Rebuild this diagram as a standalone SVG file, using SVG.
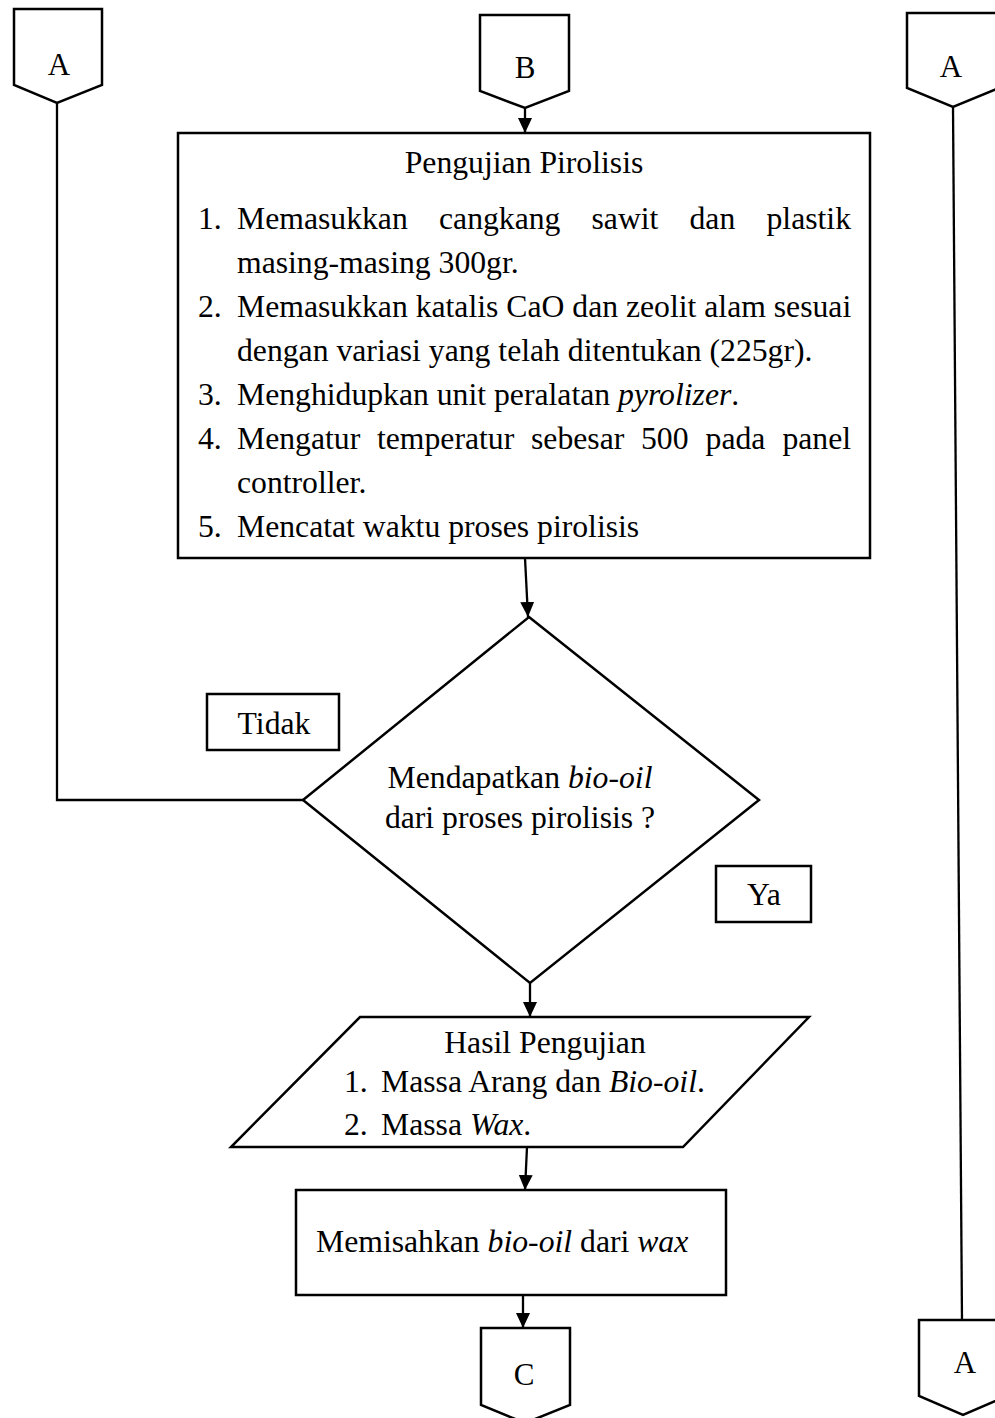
<svg xmlns="http://www.w3.org/2000/svg" width="995" height="1418" viewBox="0 0 995 1418">
<style>
.s{fill:#fff;stroke:#000;stroke-width:2.5;stroke-linejoin:miter}
.l{fill:none;stroke:#000;stroke-width:2.3}
text{font-family:"Liberation Serif","Times New Roman",serif;font-size:31.7px;fill:#000}
.c{font-size:31px}
.i{font-style:italic}
</style>
<defs>
<marker id="ah" markerUnits="userSpaceOnUse" markerWidth="16" markerHeight="16" refX="15" refY="7" orient="auto">
<path d="M0,0 L15,7 L0,14 Z" fill="#000"/>
</marker>
</defs>
<rect width="995" height="1418" fill="#fff"/>
<g id="connectors">
<polyline class="l" points="303,800 57,800 57,103"/>
<line class="l" x1="953" y1="107" x2="962" y2="1320"/>
<line class="l" x1="525" y1="108" x2="525" y2="133" marker-end="url(#ah)"/>
<line class="l" x1="525" y1="558" x2="528" y2="617" marker-end="url(#ah)"/>
<line class="l" x1="530" y1="983" x2="530" y2="1017" marker-end="url(#ah)"/>
<line class="l" x1="527" y1="1147" x2="525" y2="1190" marker-end="url(#ah)"/>
<line class="l" x1="523" y1="1295" x2="523" y2="1328" marker-end="url(#ah)"/>
</g>
<g id="conn-A-left">
<polygon class="s" points="14,9 102,9 102,85 57,103 14,85"/>
<text class="c" x="59" y="75" text-anchor="middle">A</text>
</g>
<g id="conn-B">
<polygon class="s" points="480,15 569,15 569,91 525,108 480,91"/>
<text class="c" x="525" y="78" text-anchor="middle">B</text>
</g>
<g id="conn-A-right-top">
<polygon class="s" points="907,13 999,13 999,88 953,107 907,88"/>
<text class="c" x="951" y="77" text-anchor="middle">A</text>
</g>
<g id="pengujian">
<rect class="s" x="178" y="133" width="692" height="425"/>
<text x="524" y="173" text-anchor="middle">Pengujian Pirolisis</text>
<text x="198" y="229">1.</text>
<text x="237" y="229">Memasukkan</text>
<text x="439" y="229">cangkang</text>
<text x="591.5" y="229">sawit</text>
<text x="689.5" y="229">dan</text>
<text x="851" y="229" text-anchor="end">plastik</text>
<text x="237" y="273">masing-masing 300gr.</text>
<text x="198" y="317">2.</text>
<text x="237" y="317">Memasukkan katalis CaO dan zeolit alam sesuai</text>
<text x="237" y="361">dengan variasi yang telah ditentukan (225gr).</text>
<text x="198" y="405">3.</text>
<text x="237" y="405">Menghidupkan unit peralatan <tspan class="i">pyrolizer</tspan>.</text>
<text x="198" y="449">4.</text>
<text x="237" y="449">Mengatur</text>
<text x="377" y="449">temperatur</text>
<text x="531" y="449">sebesar</text>
<text x="641" y="449">500</text>
<text x="705.6" y="449">pada</text>
<text x="851" y="449" text-anchor="end">panel</text>
<text x="237" y="493">controller.</text>
<text x="198" y="537">5.</text>
<text x="237" y="537">Mencatat waktu proses pirolisis</text>
</g>
<g id="decision">
<polygon class="s" points="529,617 759,800 530,983 303,800"/>
<text x="520" y="788" text-anchor="middle">Mendapatkan <tspan class="i">bio-oil</tspan></text>
<text x="520" y="828" text-anchor="middle">dari proses pirolisis ?</text>
</g>
<g id="label-tidak">
<rect class="s" x="207" y="694" width="132" height="56"/>
<text x="274" y="734" text-anchor="middle">Tidak</text>
</g>
<g id="label-ya">
<rect class="s" x="716" y="866" width="95" height="56"/>
<text x="764" y="905" text-anchor="middle">Ya</text>
</g>
<g id="hasil">
<polygon class="s" points="360,1017 809,1017 683,1147 231,1147"/>
<text x="545" y="1053" text-anchor="middle">Hasil Pengujian</text>
<text x="344" y="1092">1.</text>
<text x="381" y="1092">Massa Arang dan <tspan class="i">Bio-oil</tspan>.</text>
<text x="344" y="1135">2.</text>
<text x="381" y="1135">Massa <tspan class="i">Wax</tspan>.</text>
</g>
<g id="memisahkan">
<rect class="s" x="296" y="1190" width="430" height="105"/>
<text x="316" y="1252">Memisahkan <tspan class="i">bio-oil</tspan> dari <tspan class="i">wax</tspan></text>
</g>
<g id="conn-C">
<polygon class="s" points="481,1328 570,1328 570,1405 525,1423 481,1405"/>
<text class="c" x="524" y="1385" text-anchor="middle">C</text>
</g>
<g id="conn-A-right-bottom">
<polygon class="s" points="919,1320 1007,1320 1007,1396 963,1415 919,1396"/>
<text class="c" x="965" y="1373" text-anchor="middle">A</text>
</g>
</svg>
